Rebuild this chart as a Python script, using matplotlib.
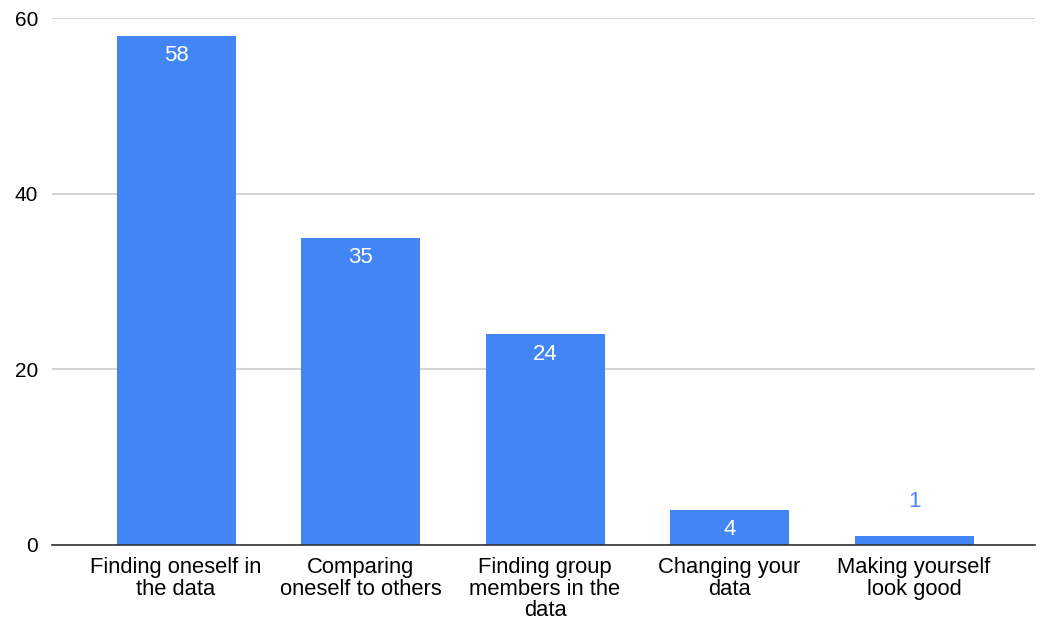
import matplotlib
matplotlib.use('Agg')
import matplotlib.pyplot as plt

categories = ['Finding oneself in\nthe data', 'Comparing\noneself to others',
              'Finding group\nmembers in the\ndata', 'Changing your\ndata',
              'Making yourself\nlook good']
counts = [58, 35, 24, 4, 1]
yticks = [0, 20, 40, 60]

BLUE = '#4285F4'

plt.rcParams['font.family'] = ['Liberation Sans', 'DejaVu Sans']

fig = plt.figure(figsize=(10.43, 6.21), dpi=100)
ax = fig.add_axes([0.0499, 0.1224, 0.9425, 0.8486])

x = range(len(counts))
bars = ax.bar(x, counts, width=0.645, color=BLUE, zorder=3)

for b, v in zip(bars, counts):
    cx = b.get_x() + b.get_width() / 2
    if v >= 3:
        ax.annotate(str(v), (cx, v), xytext=(0, -20), textcoords='offset pixels',
                    ha='center', va='center', color='white', fontsize=16, zorder=4)
    else:
        ax.annotate(str(v), (cx, v), xytext=(0, 35), textcoords='offset pixels',
                    ha='center', va='center', color=BLUE, fontsize=16, zorder=4)

ax.set_xlim(-0.672, 4.656)
ax.set_ylim(0, 60)
ax.set_yticks(yticks)
ax.set_xticks(list(x))
ax.set_xticklabels(categories, fontsize=15.8, linespacing=1.03, va='top')
ax.tick_params(axis='y', labelsize=15, length=0, pad=10, labelcolor='#000000')
ax.tick_params(axis='x', length=0, pad=9, labelcolor='#000000')

ax.grid(axis='y', color='#cccccc', linewidth=1.2, zorder=0)
for s in ['top', 'right', 'left']:
    ax.spines[s].set_visible(False)
ax.spines['bottom'].set_color('#333333')
ax.spines['bottom'].set_linewidth(1.2)
ax.spines['bottom'].set_zorder(5)

fig.savefig('out.png', dpi=100)
